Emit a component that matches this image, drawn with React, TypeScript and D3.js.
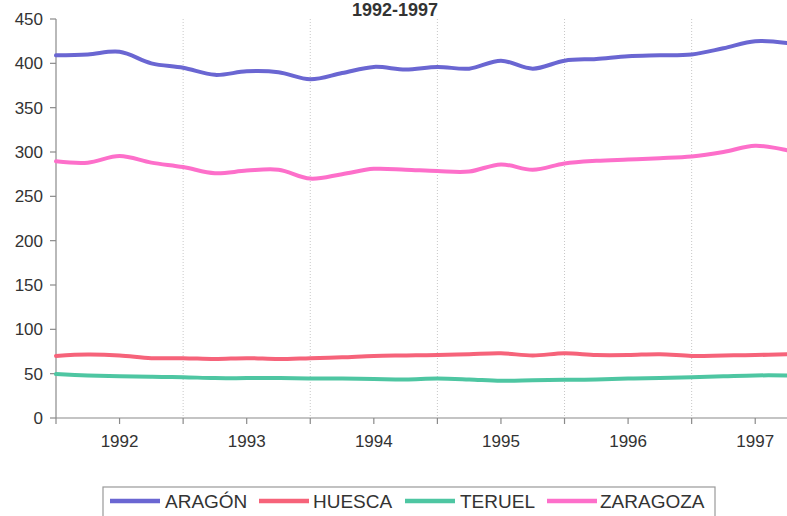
import * as d3 from 'd3';

// quarters from 1991 T3 to 1997 T2
const quarters = [
  '1991 T3', '1991 T4',
  '1992 T1', '1992 T2', '1992 T3', '1992 T4',
  '1993 T1', '1993 T2', '1993 T3', '1993 T4',
  '1994 T1', '1994 T2', '1994 T3', '1994 T4',
  '1995 T1', '1995 T2', '1995 T3', '1995 T4',
  '1996 T1', '1996 T2', '1996 T3', '1996 T4',
  '1997 T1', '1997 T2',
];

const aragon = [409, 410, 413, 400, 395, 387, 391, 390, 382, 389, 396, 393, 396, 394, 403, 394, 403, 405, 408, 409, 410, 417, 425, 423];
const huesca = [70, 71.5, 70.5, 67.5, 67.5, 66.5, 67.5, 66.5, 67.5, 68.5, 70, 70.5, 71, 72, 73, 70.5, 73, 71, 71, 72, 70, 70.5, 71, 72];
const teruel = [49.5, 48, 47, 46.5, 46, 45, 45, 45, 44.5, 44.5, 44, 43.5, 44.5, 43.5, 42, 42.5, 43, 43.5, 44.5, 45, 46, 47, 48, 48];
const zaragoza = [289.5, 288, 295.5, 288, 283, 276, 279, 280, 270, 275, 281, 280, 278.5, 278, 286, 280, 287, 290, 291.5, 293, 295, 300, 307, 302];

const seriesNames = ['ARAGÓN', 'HUESCA', 'TERUEL', 'ZARAGOZA'];
const seriesColors = ['#6a66d2', '#f6637a', '#4ec6a2', '#fd6fca'];
const yTicks = [0, 50, 100, 150, 200, 250, 300, 350, 400, 450];
const yearLabels: Record<string, string> = {
  '1992 T1': '1992', '1993 T1': '1993', '1994 T1': '1994',
  '1995 T1': '1995', '1996 T1': '1996', '1997 T1': '1997',
};

const W = 787;
const H = 516;
const font = 'Liberation Sans, Arial, sans-serif';

export default function App() {
  const x = d3.scalePoint<string>().domain(quarters).range([56, 787]);
  const y = d3.scaleLinear().domain([0, 450]).range([418, 19]);

  const all = [aragon, huesca, teruel, zaragoza];
  const line = d3.line<number>()
    .x((_, i) => x(quarters[i]) as number)
    .y(d => y(d))
    .curve(d3.curveCatmullRom.alpha(0.5));

  // ticks every half year, grid at mid-year
  const tickQ = quarters.filter((_, i) => i % 2 === 0);
  const gridQ = quarters.filter(q => q.endsWith('T3') && q !== quarters[0]);

  const legendItems = [
    { x0: 110, tx: 165 },
    { x0: 259, tx: 313 },
    { x0: 405, tx: 460 },
    { x0: 547, tx: 600 },
  ];

  return (
    <svg width={W} height={H} style={{ position: 'absolute', left: 0, top: 0, background: '#fff' }}>
      <text x={395} y={16} textAnchor="middle" fontFamily={font} fontWeight="bold" fontSize={18} fill="#333">
        1992-1997
      </text>

      {gridQ.map(q => (
        <line key={q} x1={x(q)} x2={x(q)} y1={y(450)} y2={y(0)}
          stroke="#c8c8c8" strokeWidth={1} strokeDasharray="1 2" />
      ))}

      {/* y axis */}
      <line x1={56} x2={56} y1={y(450)} y2={y(0)} stroke="#8a8a8a" strokeWidth={1.2} />
      {yTicks.map(t => (
        <g key={t}>
          <line x1={50} x2={56} y1={y(t)} y2={y(t)} stroke="#8a8a8a" strokeWidth={1.2} />
          <text x={43} y={y(t)} dy="0.36em" textAnchor="end" fontFamily={font} fontSize={17} fill="#333">
            {t}
          </text>
        </g>
      ))}

      {/* x axis */}
      <line x1={56} x2={W} y1={y(0)} y2={y(0)} stroke="#8a8a8a" strokeWidth={1.2} />
      {tickQ.map(q => (
        <g key={q}>
          <line x1={x(q)} x2={x(q)} y1={y(0)} y2={y(0) + 6} stroke="#8a8a8a" strokeWidth={1.2} />
          {yearLabels[q] && (
            <text x={x(q)} y={447} textAnchor="middle" fontFamily={font} fontSize={17} fill="#333">
              {yearLabels[q]}
            </text>
          )}
        </g>
      ))}

      {all.map((s, k) => (
        <path key={k} d={line(s) || ''} fill="none" stroke={seriesColors[k]} strokeWidth={4}
          strokeLinejoin="round" strokeLinecap="round" />
      ))}

      {/* legend */}
      <rect x={103} y={487} width={612} height={40} fill="#fff" stroke="#999" strokeWidth={1.2} />
      {legendItems.map((it, k) => (
        <g key={k}>
          <line x1={it.x0} x2={it.x0 + 50} y1={501} y2={501} stroke={seriesColors[k]} strokeWidth={4.5} />
          <text x={it.tx} y={508} fontFamily={font} fontSize={19} fill="#333">{seriesNames[k]}</text>
        </g>
      ))}
    </svg>
  );
}
